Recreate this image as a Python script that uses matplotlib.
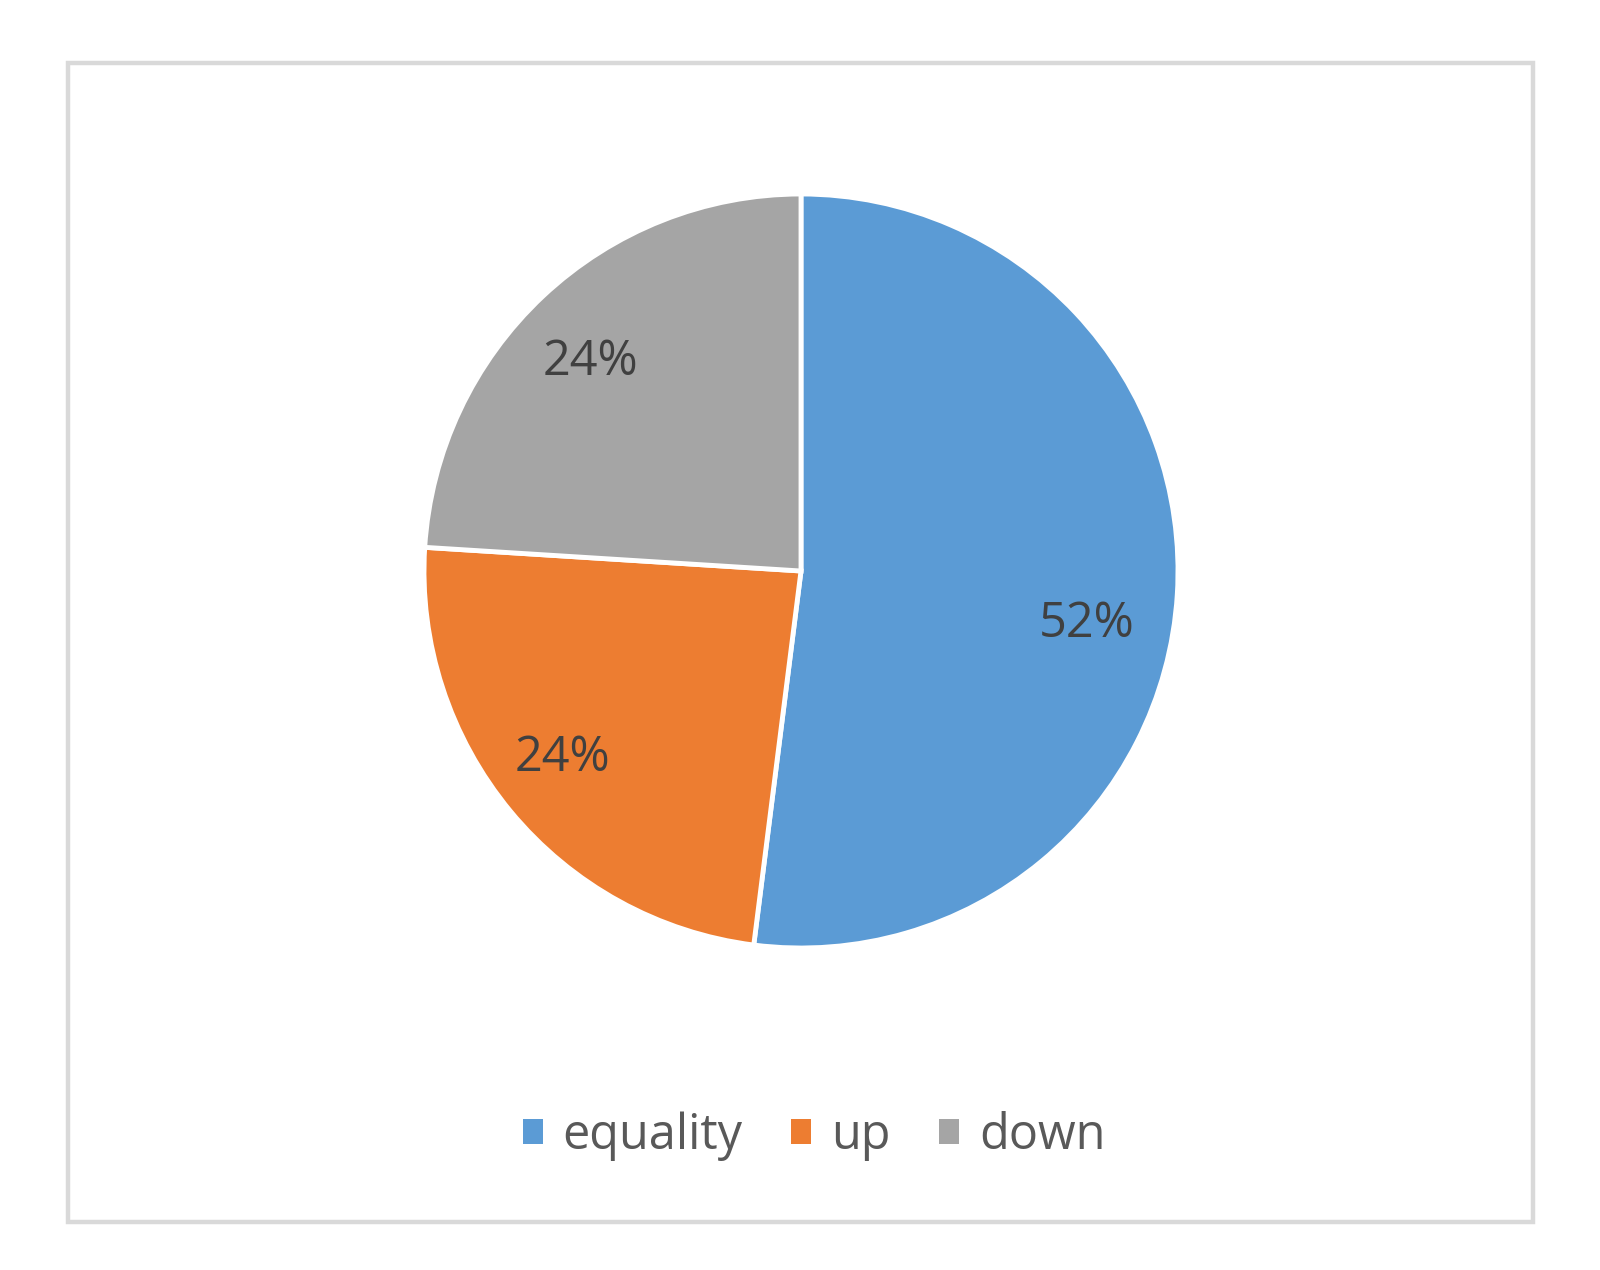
import matplotlib
matplotlib.use('Agg')
from matplotlib import pyplot as plt
from matplotlib.patches import Rectangle, Patch

labels = ['equality', 'up', 'down']
values = [52, 24, 24]
colors = ['#5B9BD5', '#ED7D31', '#A5A5A5']

plt.rcParams['font.family'] = ['Open Sans', 'DejaVu Sans']

fig = plt.figure(figsize=(16, 12.7), dpi=100)

# light grey chart border
fig.patches.append(Rectangle((68 / 1600, 1 - 1222 / 1270), (1533 - 68) / 1600,
                             (1222 - 63) / 1270, transform=fig.transFigure,
                             fill=False, edgecolor='#d9d9d9', linewidth=3.2))

cx, cy, r = 801, 571, 377
ax = fig.add_axes([(cx - r) / 1600, (1270 - cy - r) / 1270, 2 * r / 1600, 2 * r / 1270])
wedges, texts, ptexts = ax.pie(values, colors=colors, startangle=90, counterclock=False,
                               autopct='%d%%', pctdistance=0.78,
                               wedgeprops=dict(edgecolor='white', linewidth=3.5),
                               textprops=dict(color='#404040', fontsize=35))
# excel "best fit" label spots, in pie radius units
label_spots = [(0.757, -0.142), (-0.632, -0.496), (-0.559, 0.553)]
for t, p in zip(ptexts, label_spots):
    t.set_position(p)
ax.set_xlim(-1, 1)
ax.set_ylim(-1, 1)
ax.set_aspect('equal')
ax.axis('off')

handles = [Patch(facecolor=c, edgecolor='none') for c in colors]
fig.legend(handles, labels, loc='center', bbox_to_anchor=(0.5087, 1 - 1136 / 1270), ncol=3,
           frameon=False, fontsize=35, labelcolor='#595959', handlelength=0.42,
           handleheight=0.42, handletextpad=0.4, columnspacing=1.0)

fig.savefig('out.png', dpi=100)
